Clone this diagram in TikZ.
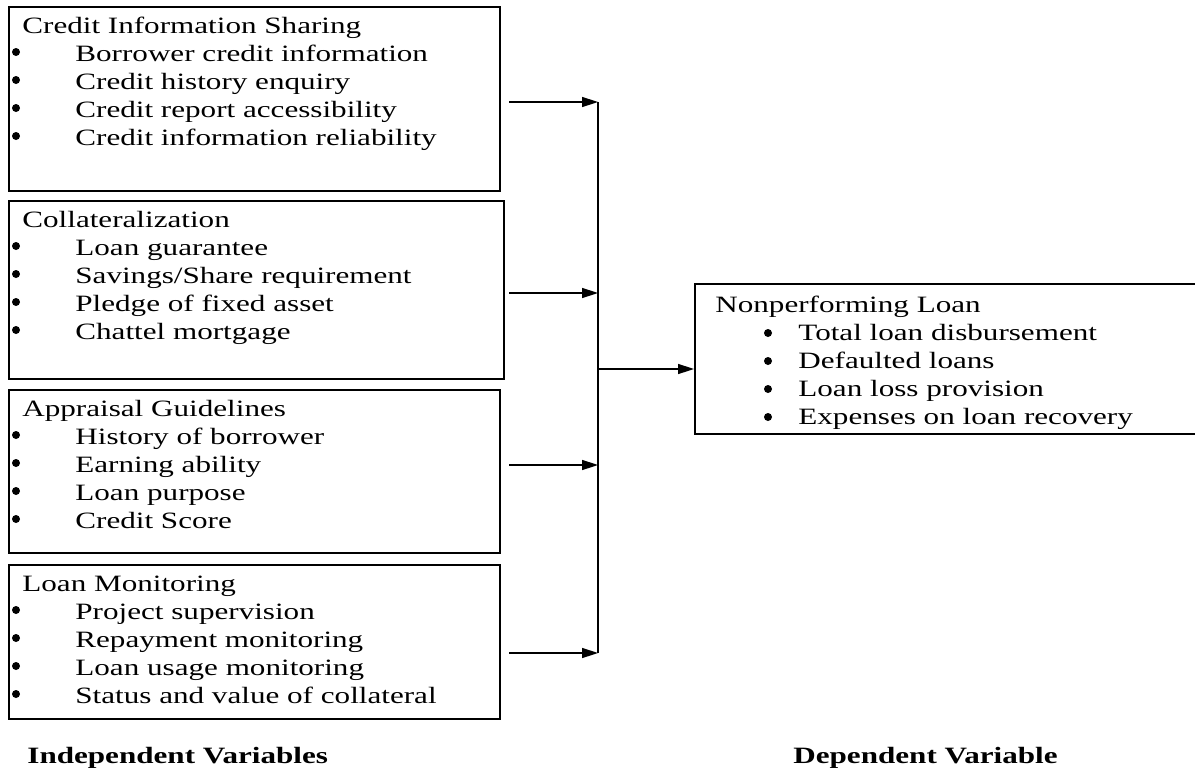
\documentclass[tikz,border=0pt]{standalone}
\usepackage{fontspec}
\setmainfont{Liberation Serif}[FakeStretch=1.33]
\usetikzlibrary{arrows.meta}
\newcommand{\vitem}[1]{\\\makebox[26.5pt]{}#1}
\newcommand{\ditem}[1]{\\\makebox[41.5pt]{}#1}

\begin{document}
\begin{tikzpicture}[x=0.5pt,y=-0.5pt,
    varbox/.style={draw,line width=1pt,anchor=north west,inner sep=0pt},
    vartext/.style={anchor=north west,inner sep=0pt,align=left,font=\fontsize{11.7}{14}\selectfont},
    caption/.style={anchor=base west,inner sep=0pt,font=\fontsize{11.7}{14}\selectfont\bfseries},
    bulletdot/.style={fill=black},
    link/.style={line width=0.75pt},
    flow/.style={link,-{Triangle[length=8pt,width=5pt]}}]
  \useasboundingbox (0,0) rectangle (1195,771);
  \clip (0,0) rectangle (1195,771);
  % independent variables
  \node[varbox,minimum width=245.5pt,minimum height=92pt] (cis) at (8,6) {};
  \node[vartext] (cistext) at ([xshift=7pt,yshift=-3.7pt]cis.north west)
    {\strut Credit Information Sharing\vitem{Borrower credit information}\vitem{Credit history enquiry}\vitem{Credit report accessibility}\vitem{Credit information reliability}};
  \node[varbox,minimum width=247.5pt,minimum height=89pt] (coll) at (8,200) {};
  \node[vartext] (colltext) at ([xshift=7pt,yshift=-3.7pt]coll.north west)
    {\strut Collateralization\vitem{Loan guarantee}\vitem{Savings/Share requirement}\vitem{Pledge of fixed asset}\vitem{Chattel mortgage}};
  \node[varbox,minimum width=245.5pt,minimum height=81.5pt] (appr) at (8,389) {};
  \node[vartext] (apprtext) at ([xshift=7pt,yshift=-3.7pt]appr.north west)
    {\strut Appraisal Guidelines\vitem{History of borrower}\vitem{Earning ability}\vitem{Loan purpose}\vitem{Credit Score}};
  \node[varbox,minimum width=245.5pt,minimum height=77pt] (mon) at (8,564) {};
  \node[vartext] (montext) at ([xshift=7pt,yshift=-3.7pt]mon.north west)
    {\strut Loan Monitoring\vitem{Project supervision}\vitem{Repayment monitoring}\vitem{Loan usage monitoring}\vitem{Status and value of collateral}};
  % dependent variable
  \node[varbox,minimum width=270pt,minimum height=75pt] (npl) at (694,283) {};
  \node[vartext] (npltext) at ([xshift=10.5pt,yshift=-4.7pt]npl.north west)
    {\strut Nonperforming Loan\ditem{Total loan disbursement}\ditem{Defaulted loans}\ditem{Loan loss provision}\ditem{Expenses on loan recovery}};
  % bullets
  \foreach \t in {6,200,389,564}
    \foreach \k in {1,...,4}
      \fill[bulletdot] (16,{\t+18+28*\k}) circle[radius=4];
  \foreach \k in {1,...,4}
    \fill[bulletdot] (768,{305+28*\k}) circle[radius=4];
  % connectors
  \coordinate (j1) at (598,102);
  \coordinate (j2) at (598,293);
  \coordinate (j3) at (598,465);
  \coordinate (j4) at (598,653);
  \coordinate (jm) at (598,369);
  \draw[flow] ([xshift=4pt]cis.east |- j1) -- (j1);
  \draw[flow] ([xshift=2pt]coll.east |- j2) -- (j2);
  \draw[flow] ([xshift=4pt]appr.east |- j3) -- (j3);
  \draw[flow] ([xshift=4pt]mon.east |- j4) -- (j4);
  \draw[link,line width=0.9pt] (j1) -- (j4);
  \draw[flow] (jm) -- (npl.west |- jm);
  % captions
  \node[caption] (indep) at (27,763) {Independent Variables};
  \node[caption] (dep) at (793,763) {Dependent Variable};
\end{tikzpicture}
\end{document}
